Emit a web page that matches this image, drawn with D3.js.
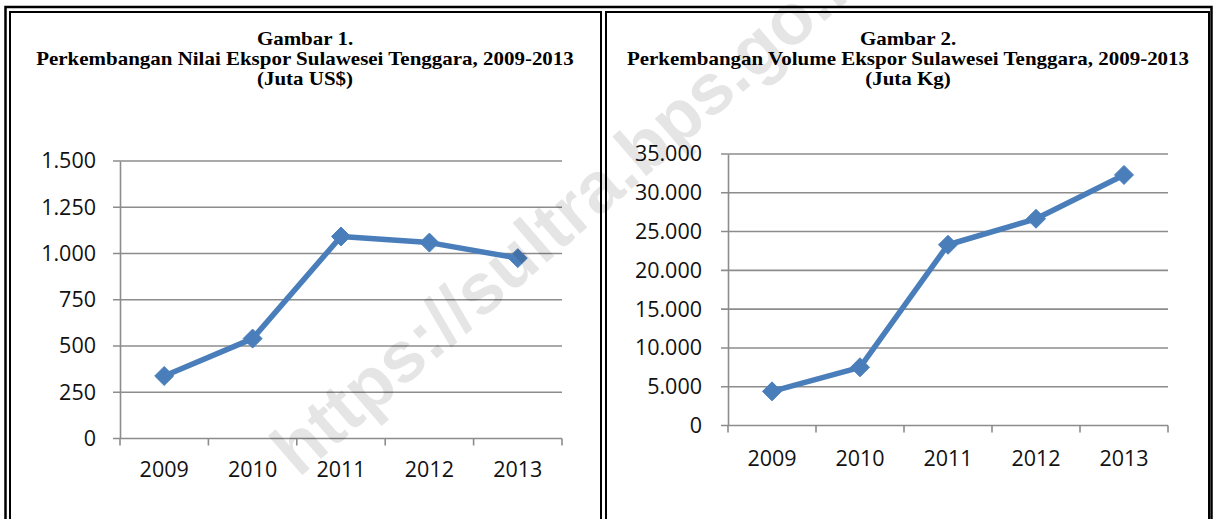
<!DOCTYPE html>
<html>
<head>
<meta charset="utf-8">
<script src="https://cdn.jsdelivr.net/npm/d3@7"></script>
<style>
  body { margin: 0; background: #fff; }
  svg { display: block; }
</style>
</head>
<body>
<div id="graph"></div>
<script>
// data
var years = ["2009", "2010", "2011", "2012", "2013"];
var nilaiEkspor = [338, 540, 1092, 1059, 975];          // Juta US$
var volumeEkspor = [4400, 7500, 23300, 26650, 32300];    // Juta Kg
var nilaiTicks = [0, 250, 500, 750, 1000, 1250, 1500];
var volumeTicks = [0, 5000, 10000, 15000, 20000, 25000, 30000, 35000];
var titles1 = ["Gambar 1.", "Perkembangan Nilai Ekspor Sulawesei Tenggara, 2009-2013", "(Juta US$)"];
var titles2 = ["Gambar 2.", "Perkembangan Volume Ekspor Sulawesei Tenggara, 2009-2013", "(Juta Kg)"];

var w = 1214;
var h = 519;
var lineColor = "#4a7ebb";

// indonesian style number: 1.500, 35.000
var idLocale = d3.formatLocale({decimal: ",", thousands: ".", grouping: [3], currency: ["", ""]});
var fmt = idLocale.format(",");

var svg = d3.select("#graph")
            .append("svg")
            .attr("width", w)
            .attr("height", h);

// double frame round both panels
svg.append("rect")
   .attr("x", 5.5).attr("y", 7)
   .attr("width", 1206).attr("height", 530)
   .attr("fill", "none").attr("stroke", "#000").attr("stroke-width", 2.5);
svg.append("rect")
   .attr("x", 10).attr("y", 12)
   .attr("width", 591).attr("height", 530)
   .attr("fill", "none").attr("stroke", "#000").attr("stroke-width", 2);
svg.append("rect")
   .attr("x", 606).attr("y", 12)
   .attr("width", 603).attr("height", 530)
   .attr("fill", "none").attr("stroke", "#000").attr("stroke-width", 2);

function drawChart(cfg) {
  var g = svg.append("g");

  // title, the scanned type is a bit wide so stretch it sideways
  g.append("g")
    .attr("transform", "translate(" + cfg.cx + ",0) scale(1.165,1)")
    .selectAll("text")
    .data(cfg.titles)
    .enter()
    .append("text")
    .attr("x", 0)
    .attr("y", function(d, i){ return 45.5 + i * 20; })
    .attr("text-anchor", "middle")
    .attr("font-family", "'Liberation Serif', 'Times New Roman', serif")
    .attr("font-weight", "bold")
    .attr("font-size", "18px")
    .attr("fill", "#000")
    .text(function(d){ return d; });

  var xScale = d3.scaleBand()
                 .domain(years)
                 .range([cfg.x0, cfg.x1]);

  var yScale = d3.scaleLinear()
                 .domain([0, d3.max(cfg.ticks)])
                 .range([cfg.y0, cfg.yTop]);

  // gridlines (they also stick out left of the axis like ticks)
  g.selectAll("line.grid")
    .data(cfg.ticks)
    .enter()
    .append("line")
    .attr("x1", cfg.x0 - 7)
    .attr("x2", cfg.x1)
    .attr("y1", function(d){ return yScale(d); })
    .attr("y2", function(d){ return yScale(d); })
    .attr("stroke", "#8c8c8c")
    .attr("stroke-width", 1.6);

  // y axis labels
  var yAxis = d3.axisLeft(yScale)
                .tickValues(cfg.ticks)
                .tickFormat(fmt)
                .tickSize(0)
                .tickPadding(cfg.yPad);
  var ya = g.append("g")
            .attr("transform", "translate(" + cfg.x0 + ",0)")
            .call(yAxis);
  ya.select(".domain")
    .attr("stroke", "#8c8c8c")
    .attr("stroke-width", 1.6);
  ya.selectAll("text")
    .attr("font-family", "'Open Sans', sans-serif")
    .attr("font-size", "21.5px")
    .attr("fill", "#111");

  // x axis labels
  var xAxis = d3.axisBottom(xScale)
                .tickSize(0)
                .tickPadding(cfg.xPad);
  var xa = g.append("g")
            .attr("transform", "translate(0," + cfg.y0 + ")")
            .call(xAxis);
  xa.select(".domain").remove();
  xa.selectAll("text")
    .attr("font-family", "'Open Sans', sans-serif")
    .attr("font-size", "21.5px")
    .attr("fill", "#111");

  // tick marks sit on the category boundaries
  var bounds = years.map(function(d){ return xScale(d); }).concat([cfg.x1]);
  g.selectAll("line.xtick")
    .data(bounds)
    .enter()
    .append("line")
    .attr("x1", function(d){ return d; })
    .attr("x2", function(d){ return d; })
    .attr("y1", cfg.y0)
    .attr("y2", cfg.y0 + 7)
    .attr("stroke", "#8c8c8c")
    .attr("stroke-width", 1.6);

  var cx = function(d, i){ return xScale(years[i]) + xScale.bandwidth() / 2; };

  var line = d3.line()
               .x(cx)
               .y(function(d){ return yScale(d); });

  g.append("path")
    .datum(cfg.values)
    .attr("d", line)
    .attr("fill", "none")
    .attr("stroke", lineColor)
    .attr("stroke-width", 5.5)
    .attr("stroke-linejoin", "round");

  g.selectAll("path.marker")
    .data(cfg.values)
    .enter()
    .append("path")
    .attr("class", "marker")
    .attr("d", d3.symbol().type(d3.symbolDiamond2).size(230))
    .attr("transform", function(d, i){
      return "translate(" + cx(d, i) + "," + yScale(d) + ")";
    })
    .attr("fill", lineColor)
    .attr("stroke", lineColor)
    .attr("stroke-width", 1);
}

drawChart({
  titles: titles1, cx: 305,
  values: nilaiEkspor, ticks: nilaiTicks,
  x0: 120, x1: 562, y0: 438.5, yTop: 161,
  yPad: 24, xPad: 23
});

drawChart({
  titles: titles2, cx: 908,
  values: volumeEkspor, ticks: volumeTicks,
  x0: 728, x1: 1168, y0: 425.5, yTop: 154,
  yPad: 26, xPad: 25
});

// faint diagonal watermark
svg.append("text")
   .attr("transform", "translate(575,205) rotate(-41)")
   .attr("text-anchor", "middle")
   .attr("dominant-baseline", "central")
   .attr("font-family", "'Liberation Sans', Arial, sans-serif")
   .attr("font-weight", "bold")
   .attr("font-size", "72px")
   .attr("fill", "#000")
   .attr("fill-opacity", 0.1)
   .text("https://sultra.bps.go.id");
</script>
</body>
</html>
